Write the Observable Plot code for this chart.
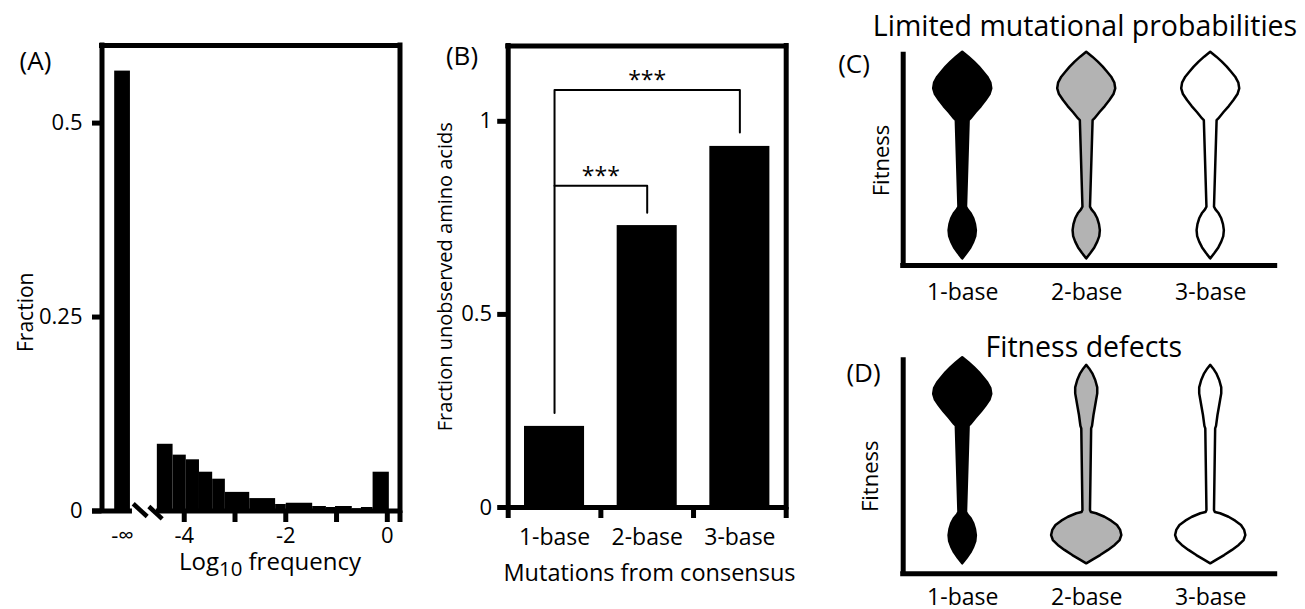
<!DOCTYPE html>
<html><head><meta charset="utf-8">
<script src="https://cdn.jsdelivr.net/npm/d3@7"></script>
<script src="https://cdn.jsdelivr.net/npm/@observablehq/plot@0.6"></script>
<style>
body{margin:0;background:#fff;}
#wrap{position:relative;width:1305px;height:609px;font-family:"Open Sans",sans-serif;color:#000;background:#fff;overflow:hidden;}
#wrap svg{position:absolute;overflow:visible;}
#loglabel{position:absolute;left:120px;width:300px;top:549px;text-align:center;font-size:24px;line-height:24px;white-space:nowrap;}
#loglabel span{position:relative;top:6px;font-size:85%;}
</style></head><body>
<div id="wrap"><div id="loglabel">Log<span>10</span> frequency</div></div>
<script>
// ---------- Panel A: histogram of log10 frequency ----------
const histStart = [-4.53,-4.22,-3.96,-3.70,-3.44,-3.19,-2.71,-2.20,-1.99,-1.47,-1.20,-1.02,-0.69,-0.51,-0.28];
const histEnd   = [-4.22,-3.96,-3.70,-3.44,-3.19,-2.71,-2.20,-1.99,-1.47,-1.20,-1.02,-0.69,-0.51,-0.28,0.04];
const histFrac  = [0.086,0.072,0.066,0.050,0.041,0.024,0.016,0.0084,0.010,0.0058,0.0045,0.0058,0.003,0.0045,0.050];
const negInfPos = -5.215;
const negInfFrac = 0.567;
const negInfLabel = "-\u221E";
const xTicksA = [-4,-3,-2,-1,0];
const xTickLabelsA = ["-4","","-2","","0"];
const yTicksA = [0,0.25,0.5];
const yTickLabelsA = ["0","0.25","0.5"];
const yLabelA = "Fraction";

// ---------- Panel B: unobserved amino acids ----------
const mutCats = ["1-base","2-base","3-base"];
const unobserved = [0.21,0.73,0.935];
const yTicksB = [0,0.5,1];
const yTickLabelsB = ["0","0.5","1"];
const yLabelB = "Fraction unobserved amino acids";
const xLabelB = "Mutations from consensus";
const bracketFrom = [1,1];
const bracketTo = [3,2];
const bracketTop = [1.081,0.833];
const bracketFromEnd = [0.245,0.833];
const bracketToEnd = [0.971,0.763];
const bracketLabel = ["***","***"];

// ---------- Panels C & D: schematic violins ----------
const violinCats = ["1-base","2-base","3-base"];
const violinFills = ["black","#b3b3b3","white"];
const normalF = [1.0,.976,.952,.928,.903,.879,.850,.823,.795,.766,.737,.708,.677,.669,.250,.237,.218,.194,.166,.137,.108,.081,.053,.027,0];
const normalD = [0,.21,.40,.57,.72,.86,.97,1.0,.94,.80,.64,.46,.28,.22,.13,.18,.29,.38,.44,.47,.45,.38,.28,.15,0];
const defectF = [.963,.946,.922,.890,.854,.825,.793,.760,.720,.667,.655,.259,.249,.243,.226,.207,.186,.162,.137,.113,.089,.065,.040,.019,0];
const defectD = [0,.10,.21,.31,.38,.38,.34,.30,.25,.20,.17,.13,.16,.34,.63,.86,1.06,1.17,1.21,1.15,.98,.75,.48,.23,0];
const profilesC = ["normal","normal","normal"];
const profilesD = ["normal","defect","defect"];
const titleC = "Limited mutational probabilities";
const titleD = "Fitness defects";
const yLabelCD = "Fitness";

const wrap = document.getElementById("wrap");
const font = {fontFamily: "'Open Sans', sans-serif", color: "black", background: "transparent", overflow: "visible"};
function place(svg, left, top) { svg.style.left = left + "px"; svg.style.top = top + "px"; wrap.appendChild(svg); }

// ===== Panel A =====
const xDomA = [-5.62, 0.25];
const yDomA = [0, 0.6];
const hist = histStart.map((s, i) => ({start: s, end: histEnd[i], frac: histFrac[i]}));
const axisSegA = [{a: -5.807, b: -5.02}, {a: -4.55, b: xDomA[1]}];
const breakA = [{x1: -5.005, y1: 0.0093, x2: -4.73, y2: -0.0071}, {x1: -4.698, y1: 0.0058, x2: -4.434, y2: -0.0101}];
const svgA = Plot.plot({
  width: 420, height: 609,
  marginLeft: 101.5, marginRight: 20.5, marginTop: 45, marginBottom: 98.5,
  x: {domain: xDomA, label: null},
  y: {domain: yDomA, label: null},
  style: {...font, fontSize: "22px"},
  marks: [
    Plot.rectY(hist, {x1: "start", x2: "end", y: "frac", fill: "black"}),
    Plot.rectY([{pos: negInfPos, frac: negInfFrac}], {x1: d => d.pos - 0.155, x2: d => d.pos + 0.155, y: "frac", fill: "black"}),
    Plot.ruleY([yDomA[1]], {x1: xDomA[0], x2: xDomA[1], strokeWidth: 5, strokeLinecap: "square"}),
    Plot.ruleX([xDomA[0]], {y1: 0, y2: yDomA[1], strokeWidth: 5, strokeLinecap: "square"}),
    Plot.ruleX([xDomA[1]], {y1: 0, y2: yDomA[1], strokeWidth: 5, strokeLinecap: "square"}),
    Plot.ruleY(axisSegA, {y: 0, x1: "a", x2: "b", strokeWidth: 5}),
    Plot.link(breakA, {x1: "x1", y1: "y1", x2: "x2", y2: "y2", strokeWidth: 4.5}),
    Plot.axisY(yTicksA, {tickSize: 9.5, tickPadding: 10, strokeWidth: 5, fontSize: 22, label: null,
      tickFormat: d => yTickLabelsA[yTicksA.indexOf(d)]}),
    Plot.axisX([...xTicksA, xDomA[1]], {tickSize: 11.5, tickPadding: 4.5, strokeWidth: 5, fontSize: 22, label: null,
      tickFormat: d => (xTicksA.indexOf(d) >= 0 ? xTickLabelsA[xTicksA.indexOf(d)] : "")}),
    Plot.axisX([negInfPos], {tickSize: 0, tickPadding: 16, fontSize: 22, label: null, tickFormat: () => negInfLabel}),
    Plot.text([yLabelA], {frameAnchor: "left", textAnchor: "middle", rotate: -90, lineAnchor: "bottom", dx: -69.5, dy: 34, fontSize: 21}),
    Plot.text(["(A)"], {frameAnchor: "top-left", textAnchor: "middle", lineAnchor: "middle", dx: -66.5, dy: 16, fontSize: 26})
  ]
});
place(svgA, 0, 0);

// ===== Panel B =====
const xDomB = [0.5, 3.5];
const yDomB = [0, 1.195];
const barsB = mutCats.map((c, i) => ({pos: i + 1, value: unobserved[i]}));
const bracketRows = [];
bracketFrom.forEach((f, i) => {
  bracketRows.push({id: i, x: f, y: bracketFromEnd[i]});
  bracketRows.push({id: i, x: f, y: bracketTop[i]});
  bracketRows.push({id: i, x: bracketTo[i], y: bracketTop[i]});
  bracketRows.push({id: i, x: bracketTo[i], y: bracketToEnd[i]});
});
const bracketText = bracketFrom.map((f, i) => ({x: (f + bracketTo[i]) / 2, y: bracketTop[i], t: bracketLabel[i]}));
const catTicks = mutCats.map((c, i) => i + 1);
const svgB = Plot.plot({
  width: 400, height: 609,
  marginLeft: 87.7, marginRight: 34.3, marginTop: 45.5, marginBottom: 102,
  x: {domain: xDomB, label: null},
  y: {domain: yDomB, label: null},
  style: {...font, fontSize: "22px"},
  marks: [
    Plot.rectY(barsB, {x1: d => d.pos - 0.324, x2: d => d.pos + 0.324, y: "value", fill: "black"}),
    Plot.ruleY([yDomB[1]], {x1: xDomB[0], x2: xDomB[1], strokeWidth: 5, strokeLinecap: "square"}),
    Plot.ruleX([xDomB[0]], {y1: 0, y2: yDomB[1], strokeWidth: 5, strokeLinecap: "square"}),
    Plot.ruleX([xDomB[1]], {y1: 0, y2: yDomB[1], strokeWidth: 5, strokeLinecap: "square"}),
    Plot.ruleY([0], {x1: xDomB[0], x2: xDomB[1], strokeWidth: 5}),
    Plot.line(bracketRows, {x: "x", y: "y", z: "id", stroke: "black", strokeWidth: 2}),
    Plot.text(bracketText, {x: "x", y: "y", text: "t", lineAnchor: "bottom", dy: -2, fontSize: 23}),
    Plot.axisY(yTicksB, {tickSize: 10.5, tickPadding: 5.5, strokeWidth: 5, fontSize: 22, label: null,
      tickFormat: d => yTickLabelsB[yTicksB.indexOf(d)]}),
    Plot.axisX([0.5, 1.5, 2.5, 3.5], {tickSize: 11, strokeWidth: 5, label: null, tickFormat: () => ""}),
    Plot.axisX(catTicks, {tickSize: 0, tickPadding: 21, fontSize: 23, label: null, tickFormat: d => mutCats[d - 1]}),
    Plot.text([yLabelB], {frameAnchor: "left", textAnchor: "middle", rotate: -90, lineAnchor: "bottom", dx: -56.7, fontSize: 20}),
    Plot.text([xLabelB], {frameAnchor: "bottom", textAnchor: "middle", lineAnchor: "bottom", dx: 2.3, dy: 73, fontSize: 23.5}),
    Plot.text(["(B)"], {frameAnchor: "top-left", textAnchor: "middle", lineAnchor: "middle", dx: -46.2, dy: 10.5, fontSize: 26})
  ]
});
place(svgB, 420, 0);

// ===== Panels C & D =====
const profiles = {normal: {f: normalF, d: normalD}, defect: {f: defectF, d: defectD}};
const widthK = 0.234;
function violinRows(assign) {
  const rows = [];
  assign.forEach((p, i) => {
    const pr = profiles[p];
    pr.f.forEach((f, j) => rows.push({cat: violinCats[i], pos: i + 1, f, d: pr.d[j]}));
  });
  return rows;
}
function violinPanel(assign, yDom, m, title, tdx, tdy, label, ldx, ldy, flabel, fdx, fdy, tickPad) {
  const xDom = [0.52, 3.52];
  return Plot.plot({
    width: 485, height: m.h,
    marginLeft: 82.7, marginRight: 30.3, marginTop: m.t, marginBottom: m.b,
    x: {domain: xDom, label: null},
    y: {domain: yDom, label: null, axis: null},
    color: {domain: violinCats, range: violinFills},
    style: {...font, fontSize: "23px"},
    marks: [
      Plot.areaX(violinRows(assign), {y: "f", x1: r => r.pos - r.d * widthK, x2: r => r.pos + r.d * widthK,
        fill: "cat", z: "cat", stroke: "black", strokeWidth: 2.5}),
      Plot.ruleX([xDom[0]], {y1: yDom[0], y2: yDom[1], strokeWidth: 5}),
      Plot.ruleY([yDom[0]], {x1: xDom[0], x2: xDom[1], strokeWidth: 5, strokeLinecap: "square"}),
      Plot.axisX([1, 2, 3], {tickSize: 0, tickPadding: tickPad, fontSize: 23, label: null, tickFormat: d => violinCats[d - 1]}),
      Plot.text([title], {frameAnchor: "top", textAnchor: "middle", lineAnchor: "bottom", dx: tdx, dy: tdy, fontSize: 28.5}),
      Plot.text([flabel], {frameAnchor: "left", textAnchor: "middle", rotate: -90, lineAnchor: "bottom", dx: fdx, dy: fdy, fontSize: 22}),
      Plot.text([label], {frameAnchor: "top-left", textAnchor: "middle", lineAnchor: "middle", dx: ldx, dy: ldy, fontSize: 26})
    ]
  });
}
const svgC = violinPanel(profilesC, [-0.032, 1], {h: 305, t: 51.7, b: 40}, titleC, -4.2, -16.7, "(C)", -49.2, 12.3, yLabelCD, -14.7, 1.6, 18);
place(svgC, 820, 0);
const svgD = violinPanel(profilesD, [-0.0485, 1], {h: 304, t: 52.3, b: 35.7}, titleD, -5.4, -1.3, "(D)", -39.7, 15.7, yLabelCD, -25.7, 10.5, 15);
place(svgD, 820, 305);
</script></body></html>
